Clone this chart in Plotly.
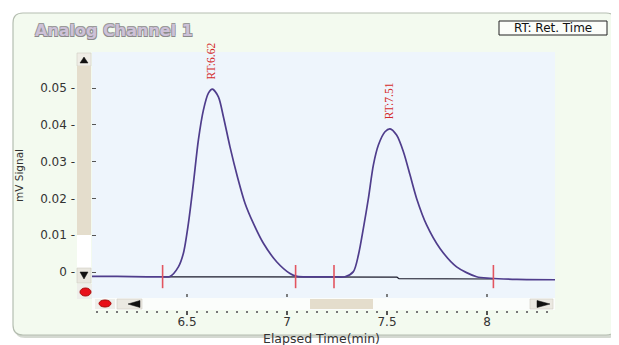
import plotly.graph_objects as go

# ---------------- data ----------------
time_min = [6.025, 6.15, 6.30, 6.378, 6.415, 6.457, 6.482, 6.507, 6.532, 6.557, 6.582,
            6.607, 6.627, 6.657, 6.682, 6.715, 6.752, 6.79, 6.832, 6.882, 6.948, 7.015,
            7.05, 7.15, 7.235, 7.29, 7.332, 7.357, 7.382, 7.407, 7.432, 7.457, 7.49,
            7.515, 7.548, 7.582, 7.615, 7.648, 7.698, 7.765, 7.848, 7.948, 8.015, 8.15,
            8.34]
signal_mv = [-0.0012, -0.0012, -0.0013, -0.0013, -0.0012, 0.0014, 0.0051, 0.0132, 0.0241,
             0.0359, 0.0440, 0.0486, 0.0497, 0.0476, 0.0422, 0.0340, 0.0259, 0.0187,
             0.0132, 0.0078, 0.0028, -0.0004, -0.0012, -0.0013, -0.0013, -0.0013, 0.0001,
             0.0046, 0.0119, 0.0200, 0.0291, 0.0345, 0.0381, 0.0389, 0.0372, 0.0327,
             0.0264, 0.0200, 0.0128, 0.0064, 0.0014, -0.0013, -0.0017, -0.0020, -0.0021]

baseline_time = [6.378, 7.043, 7.235, 7.55, 7.56, 8.032]
baseline_mv = [-0.0013, -0.0013, -0.0014, -0.0014, -0.0018, -0.0019]

marker_times = [6.378, 7.043, 7.235, 8.032]
rt_times = [6.62, 7.51]
rt_heights = [0.0497, 0.0389]
rt_labels = ["RT:6.62", "RT:7.51"]

x_tick_vals = [6.5, 7, 7.5, 8]
x_tick_text = ["6.5", "7", "7.5", "8"]
y_tick_vals = [0, 0.01, 0.02, 0.03, 0.04, 0.05]
y_tick_text = ["0", "0.01", "0.02", "0.03", "0.04", "0.05"]

title_text = "Analog Channel 1"
legend_text = "RT: Ret. Time"
x_title = "Elapsed Time(min)"
y_title = "mV Signal"

# ---------------- geometry (page pixels; page body has an 8px margin) ----------------
OFF = 8
W, H = 619 - OFF, 345 - OFF
L, R, T, B = 92, 555, 52, 310


def px(x):
    return (x - L) / (R - L)


def py(y):
    return (B - y) / (B - T)


def rect(x0, y0, x1, y1, fill, line="rgba(0,0,0,0)", lw=0, layer="above"):
    return dict(type="rect", xref="paper", yref="paper",
                x0=px(x0), x1=px(x1), y0=py(y1), y1=py(y0),
                fillcolor=fill, line=dict(color=line, width=lw), layer=layer)


def rrect(x0, y0, x1, y1, r, fill, line, lw, layer="below"):
    p = (f"M {px(x0 + r)} {py(y0)} L {px(x1 - r)} {py(y0)} "
         f"Q {px(x1)} {py(y0)} {px(x1)} {py(y0 + r)} "
         f"L {px(x1)} {py(y1 - r)} Q {px(x1)} {py(y1)} {px(x1 - r)} {py(y1)} "
         f"L {px(x0 + r)} {py(y1)} Q {px(x0)} {py(y1)} {px(x0)} {py(y1 - r)} "
         f"L {px(x0)} {py(y0 + r)} Q {px(x0)} {py(y0)} {px(x0 + r)} {py(y0)} Z")
    return dict(type="path", xref="paper", yref="paper", path=p,
                fillcolor=fill, line=dict(color=line, width=lw), layer=layer)


def tri(pts, fill="#111111"):
    p = "M " + " L ".join(f"{px(a)} {py(b)}" for a, b in pts) + " Z"
    return dict(type="path", xref="paper", yref="paper", path=p,
                fillcolor=fill, line=dict(color=fill, width=0.5), layer="above")


def dot(x0, y0, x1, y1):
    return dict(type="circle", xref="paper", yref="paper",
                x0=px(x0), x1=px(x1), y0=py(y1), y1=py(y0),
                fillcolor="#e8101a", line=dict(color="#a80808", width=1), layer="above")


fig = go.Figure()
fig.add_trace(go.Scatter(x=baseline_time, y=baseline_mv, mode="lines",
                         line=dict(color="#1a1a2a", width=1.2), hoverinfo="skip"))
fig.add_trace(go.Scatter(x=time_min, y=signal_mv, mode="lines",
                         line=dict(color="#4f3d8c", width=1.7, shape="spline", smoothing=0.8)))

shapes = [
    rrect(15, 15, 618, 338, 10, "#d4d9d1", "rgba(0,0,0,0)", 0),
    rrect(13, 13, 616, 335, 10, "#f3faef", "#b5beb1", 1.2),
    rect(L, T, R, 298, "#eef5fc", layer="below"),
    rect(L, 298, R, B, "#fbfdfb", layer="below"),
    # vertical scroll bar
    rect(77, 53, 91, 66, "#efede6", "#d0cdc2", 0.6),
    rect(77, 66, 91, 235, "#e4ddcc"),
    rect(77, 235, 91, 268, "#ffffff"),
    rect(77, 268, 91, 283, "#e9e7df", "#d0cdc2", 0.6),
    rect(77, 284, 92, 299, "#eeeeea"),
    tri([(80, 63), (88, 63), (84, 57)]),
    tri([(80, 272), (88, 272), (84, 279)]),
    dot(80, 288, 91, 296),
    # horizontal scroll bar
    rect(95, 299, 115, 309, "#eeeeea"),
    dot(99, 300, 111, 307),
    rect(117, 299, 142, 309, "#ebe9e2", "#d0cdc2", 0.6),
    tri([(128, 304), (140, 300.5), (140, 307.5)]),
    rect(310, 299, 373, 309, "#e4ddcc"),
    rect(530, 299, 553, 309, "#ebe9e2", "#d0cdc2", 0.6),
    tri([(550, 304), (537, 300.5), (537, 307.5)]),
    # legend box
    rect(499, 21, 607, 35, "#fbfdf9", "#222222", 1),
]

# small major tick dots above the scroll strip
for tv in x_tick_vals:
    shapes.append(dict(type="line", xref="x", yref="paper", x0=tv, x1=tv,
                       y0=py(297), y1=py(294), line=dict(color="#555555", width=1.5),
                       layer="above"))

# red integration markers
for mt in marker_times:
    shapes.append(dict(type="line", xref="x", yref="y", x0=mt, x1=mt,
                       y0=-0.0044, y1=0.0019, line=dict(color="#e25560", width=1.6),
                       layer="above"))

annotations = [
    dict(text=title_text, xref="paper", yref="paper", x=px(33), y=py(30),
         xanchor="left", yanchor="middle", showarrow=False,
         font=dict(family="DejaVu Sans", size=16, weight="bold", color="#cdc1d8",
                   shadow="0.7px 0.7px 0 #8a8a8a, -0.7px -0.7px 0 #9a9a9a, 0.7px -0.7px 0 #9a9a9a, -0.7px 0.7px 0 #8a8a8a")),
    dict(text=legend_text, xref="paper", yref="paper", x=px(553), y=py(28),
         xanchor="center", yanchor="middle", showarrow=False,
         font=dict(family="DejaVu Sans", size=12, color="#111111")),
    dict(text=x_title, xref="paper", yref="paper", x=px(321), y=py(338),
         xanchor="center", yanchor="middle", showarrow=False,
         font=dict(family="DejaVu Sans", size=12.5, color="#333333")),
    dict(text=y_title, xref="paper", yref="paper", x=px(19), y=py(176),
         xanchor="center", yanchor="middle", showarrow=False, textangle=-90,
         font=dict(family="DejaVu Sans", size=10.5, color="#333333")),
]
for t, h, lab in zip(rt_times, rt_heights, rt_labels):
    annotations.append(dict(text=lab, x=t, y=h, xref="x", yref="y", showarrow=False,
                            textangle=-90, xanchor="center", yanchor="bottom", yshift=7,
                            font=dict(family="Liberation Serif", size=11.5, color="#d42a2a")))

fig.update_layout(
    width=W, height=H,
    margin=dict(l=L - OFF, r=W - (R - OFF), t=T - OFF, b=H - (B - OFF), pad=0),
    paper_bgcolor="#ffffff",
    plot_bgcolor="rgba(0,0,0,0)",
    showlegend=False,
    shapes=shapes,
    annotations=annotations,
    xaxis=dict(range=[6.025, 8.34], tickvals=x_tick_vals, ticktext=x_tick_text,
               showgrid=False, zeroline=False, showline=False,
               ticks="outside", ticklen=4, tickwidth=1.5, tickcolor="#555555",
               ticklabelstandoff=-3,
               minor=dict(dtick=0.05, tick0=6.5, ticks="outside", ticklen=2,
                          tickwidth=1.5, tickcolor="#777777", showgrid=False),
               tickfont=dict(family="DejaVu Sans", size=12, color="#333333")),
    yaxis=dict(range=[-(B - 272) / 3680, (272 - T) / 3680], tickvals=y_tick_vals,
               ticktext=[t + " -" for t in y_tick_text],
               showgrid=False, zeroline=False, showline=False,
               ticks="inside", ticklen=4, tickwidth=1.2, tickcolor="#555555",
               ticklabelstandoff=16,
               tickfont=dict(family="DejaVu Sans", size=12, color="#333333")),
)

fig.write_html("out.html")
